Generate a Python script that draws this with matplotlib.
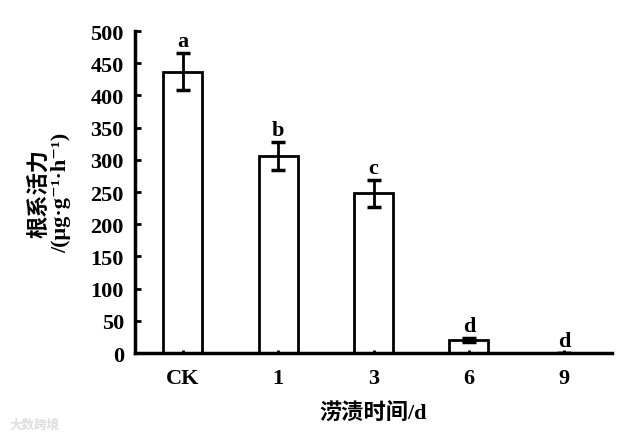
import matplotlib
matplotlib.use('Agg')
import matplotlib.pyplot as plt
import numpy as np

# 数据
categories = ['CK', '1', '3', '6', '9']
values = [437, 306, 248, 20, 0]
errors = [29, 22, 21, 3, 0]
letters = ['a', 'b', 'c', 'd', 'd']

plt.rcParams['font.family'] = ['Liberation Serif', 'Noto Sans CJK SC', 'DejaVu Serif']
plt.rcParams['font.weight'] = 'bold'

fig = plt.figure(figsize=(6.29, 4.39), dpi=100)
ax = fig.add_axes([0.2146, 0.1936, 0.7584, 0.7335])

x = np.arange(len(categories))
ax.bar(x, values, width=0.41, color='white', edgecolor='black', linewidth=2.0)
ax.errorbar(x, values, yerr=errors, fmt='none', ecolor='black',
            elinewidth=2.0, capsize=5, capthick=2.5)

# 显著性字母
for xi, v, e, t in zip(x, values, errors, letters):
    ax.text(xi, v + e + 3, t, ha='center', va='bottom', fontsize=16, fontweight='bold')

ax.set_xlim(-0.5, 4.5)
ax.set_ylim(0, 500)
ax.set_yticks(np.arange(0, 501, 50))
ax.set_xticks(x)
ax.set_xticklabels(categories)
ax.tick_params(axis='y', direction='in', length=4, width=2, labelsize=16, pad=8)
ax.tick_params(axis='x', direction='in', length=2, width=2, labelsize=16, pad=11)

for s in ['top', 'right']:
    ax.spines[s].set_visible(False)
for s in ['left', 'bottom']:
    ax.spines[s].set_linewidth(2.5)

ax.set_xlabel('涝渍时间/d', fontsize=16, fontweight='bold', labelpad=10)
ax.set_ylabel('根系活力\n/(μg·g⁻¹·h⁻¹)', fontsize=16, fontweight='bold',
              labelpad=14, linespacing=1.05)

# 水印
fig.text(0.015, 0.03, '大数跨境', fontsize=9, color='#dddddd', ha='left', va='center')

fig.savefig('out.png', dpi=100)
